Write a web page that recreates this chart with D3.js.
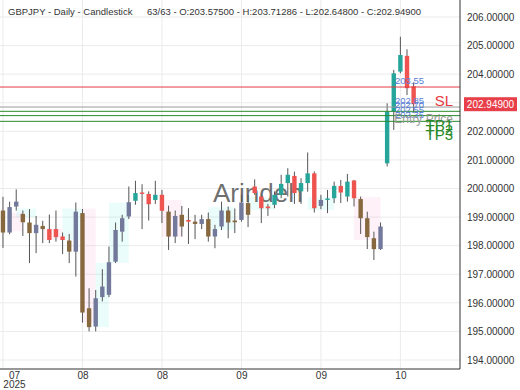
<!DOCTYPE html>
<html>
<head>
<meta charset="utf-8">
<script src="https://cdn.jsdelivr.net/npm/d3@7"></script>
<style>
  html, body { margin: 0; padding: 0; background: #fff; }
  svg { display: block; font-family: "Liberation Sans", Arial, sans-serif; }
</style>
</head>
<body>
<div id="chart"></div>
<script>
// GBPJPY daily, 63 candles
const opens  = [199.23,198.46,199.37,199.11,198.81,198.44,198.69,198.58,198.58,198.32,
                198.18,197.79,199.14,195.81,195.17,196.20,196.28,197.44,198.49,199.02,
                199.57,199.86,199.81,199.60,199.78,199.19,198.32,199.08,198.90,198.84,
                198.76,198.93,198.32,198.67,199.23,198.88,198.90,199.49,200.07,199.72,
                199.37,199.43,199.78,200.19,200.44,199.90,200.19,200.53,199.39,199.60,
                199.66,200.09,199.72,200.28,199.63,198.96,198.26,197.88,200.88,202.69,
                204.09,204.64,203.575];
const highs  = [199.71,199.54,199.97,199.23,199.28,199.04,198.87,199.09,199.23,198.46,
                198.41,199.51,199.28,196.51,196.45,197.18,197.97,198.81,199.08,200.07,
                200.27,200.15,199.90,200.27,199.95,199.40,199.23,199.39,199.31,199.08,
                199.08,199.16,198.73,199.54,199.37,199.30,199.78,199.78,200.32,199.78,
                199.46,199.90,200.48,200.71,200.59,200.36,201.26,200.60,199.78,199.95,
                200.24,200.30,200.51,200.30,199.72,199.19,198.49,198.81,202.98,204.15,
                205.31,204.87,203.71286];
const lows   = [197.92,198.40,199.23,198.34,197.39,197.74,198.09,198.09,198.14,197.71,
                197.39,196.92,195.31,195.00,195.00,196.05,196.20,197.39,198.14,198.93,
                199.43,198.58,198.88,199.46,198.79,197.85,198.09,198.32,198.06,198.23,
                198.58,198.14,197.91,198.55,198.26,198.44,198.84,198.65,199.78,198.79,
                199.04,199.31,199.66,199.72,199.46,199.46,199.89,199.16,199.28,199.14,
                199.49,199.49,199.54,199.37,198.41,197.88,197.50,197.85,200.77,202.05,
                204.03,203.27,202.648];
const closes = [198.46,199.35,199.54,198.82,198.44,198.73,198.58,198.20,198.30,198.20,
                197.79,199.19,195.66,195.15,196.16,196.57,197.42,198.55,198.96,199.52,
                199.84,199.81,199.45,199.78,199.22,198.32,199.04,198.67,198.84,198.76,
                198.93,198.32,198.58,199.23,198.81,198.82,199.51,199.08,199.84,199.31,
                199.31,199.78,200.16,200.48,199.84,200.19,200.53,199.31,199.60,199.65,
                200.09,199.86,200.24,199.66,198.96,198.30,197.88,198.67,202.69,204.03,
                204.67,203.51,202.949];
// 1 = weak-signal bar (drawn in muted tone)
const weak   = [1,1,1,1,1,1,1,0,0,0, 1,1,1,1,1,1,1,1,1,1,
                0,0,0,0,0,1,1,1,0,1, 1,1,1,1,1,1,1,1,0,0,
                0,0,0,0,0,0,0,0,1,0, 0,0,0,0,1,1,1,1,0,0,
                0,0,0];

// zones: from bar, to bar, low, high, kind
const zoneFrom = [1, 2, 6, 9, 12, 14, 16, 24, 31, 37, 46, 53];
const zoneTo   = [3, 5, 9, 12, 14, 16, 19, 27, 35, 41, 50, 57];
const zoneLow  = [198.5, 199.0, 198.2, 198.2, 195.3, 195.15, 197.4, 198.3, 198.55, 199.25, 199.25, 198.2];
const zoneHigh = [199.15, 199.3, 198.6, 199.3, 199.3, 197.4, 199.5, 199.6, 199.35, 199.7, 199.7, 199.7];
const zoneKind = ["sell","buy","sell","buy","sell","buy","buy","sell","buy","buy","buy","sell"];

// trade levels
const levelNames  = ["SL", "Entry Price", "TP1", "TP2", "TP3"];
const levelValues = [203.55, 202.85, 202.70, 202.55, 202.35];

// axes
const tickIndex  = [0, 12, 24, 36, 48, 60];
const tickLabels = ["07", "08", "08", "09", "09", "10"];
const priceTicks = d3.range(194, 207, 1);

class CandleChart {
  constructor(el) {
    this.el = el;
    this.init();
  }

  init() {
    this.setup();
    this.scaffold();
    this.render();
  }

  setup() {
    this.width = 520;
    this.height = 390;
    this.plotRight = 460;
    this.plotBottom = 369;
    this.x = d3.scaleLinear().domain([-0.45, 69]).range([0, this.plotRight]);
    this.y = d3.scaleLinear().domain([194, 206]).range([360, 17]);
    this.bodyW = 4.4;
    this.colors = {
      up: "#26a69a", down: "#ef5350",
      upWeak: "#72799b", downWeak: "#87683f",
      sell: "#ff4fa0", buy: "#00e5d0",
      SL: "#e53a40", Entry: "#9a9a9a", TP: "#2a8a2a",
    };
    this.bars = opens.map((o, i) => ({
      i, o, h: highs[i], l: lows[i], c: closes[i], weak: weak[i],
    }));
    this.zones = zoneFrom.map((f, i) => ({
      f, t: zoneTo[i], lo: zoneLow[i], hi: zoneHigh[i], kind: zoneKind[i],
    }));
  }

  scaffold() {
    this.svg = d3.select(this.el).append("svg")
      .attr("width", this.width).attr("height", this.height);
    this.gGrid = this.svg.append("g");
    this.gZones = this.svg.append("g");
    this.gMark = this.svg.append("g");
    this.gCandles = this.svg.append("g");
    this.gLevels = this.svg.append("g");
    this.gAxes = this.svg.append("g");
    this.gTitle = this.svg.append("g");
  }

  render() {
    const { x, y } = this;

    // grid
    this.gGrid.selectAll(".hg").data(priceTicks).join("line")
      .attr("x1", 0).attr("x2", this.plotRight)
      .attr("y1", (d) => y(d)).attr("y2", (d) => y(d))
      .attr("stroke", "#ebebeb");
    this.gGrid.selectAll(".vg").data(tickIndex).join("line")
      .attr("x1", (d) => x(d)).attr("x2", (d) => x(d))
      .attr("y1", 0).attr("y2", this.plotBottom)
      .attr("stroke", "#ebebeb");

    // zones
    this.gZones.selectAll("rect").data(this.zones).join("rect")
      .attr("x", (d) => x(d.f))
      .attr("width", (d) => x(d.t) - x(d.f))
      .attr("y", (d) => y(d.hi))
      .attr("height", (d) => y(d.lo) - y(d.hi))
      .attr("fill", (d) => this.colors[d.kind])
      .attr("fill-opacity", 0.08);

    // watermark
    this.gMark.append("text")
      .attr("x", 213).attr("y", 202)
      .attr("font-size", 26).attr("fill", "#555").attr("fill-opacity", 0.85)
      .text("Arindeh");

    // candles
    const g = this.gCandles.selectAll("g").data(this.bars).join("g");
    g.append("line")
      .attr("x1", (d) => x(d.i)).attr("x2", (d) => x(d.i))
      .attr("y1", (d) => y(d.h)).attr("y2", (d) => y(d.l))
      .attr("stroke", "#555").attr("stroke-width", 1);
    g.append("rect")
      .attr("x", (d) => x(d.i) - this.bodyW / 2)
      .attr("width", this.bodyW)
      .attr("y", (d) => y(Math.max(d.o, d.c)))
      .attr("height", (d) => Math.max(1.2, Math.abs(y(d.o) - y(d.c))))
      .attr("fill", (d) => {
        const up = d.c >= d.o;
        if (d.weak) return up ? this.colors.upWeak : this.colors.downWeak;
        return up ? this.colors.up : this.colors.down;
      });

    // trade levels
    const lv = levelNames.map((n, i) => ({ name: n, v: levelValues[i] }));
    const col = (d) => d.name === "SL" ? this.colors.SL
      : d.name.startsWith("TP") ? this.colors.TP : this.colors.Entry;
    this.gLevels.selectAll("line").data(lv).join("line")
      .attr("x1", 0).attr("x2", this.plotRight)
      .attr("y1", (d) => y(d.v)).attr("y2", (d) => y(d.v))
      .attr("stroke", col).attr("stroke-width", 1);
    this.gLevels.selectAll(".val").data(lv).join("text")
      .attr("class", "val")
      .attr("x", 395).attr("y", (d) => y(d.v) - 3)
      .attr("font-size", 9.5).attr("fill", "#5b7fd6")
      .text((d) => d.v.toFixed(2));
    this.gLevels.selectAll(".name").data(lv).join("text")
      .attr("class", "name")
      .attr("x", 453).attr("text-anchor", "end")
      .attr("y", (d) => y(d.v) + (d.name === "Entry Price" ? 16 : 19))
      .attr("font-size", (d) => d.name === "Entry Price" ? 12 : 15)
      .attr("fill", col)
      .text((d) => d.name);

    // frame
    this.gAxes.append("line")
      .attr("x1", this.plotRight).attr("x2", this.plotRight)
      .attr("y1", 0).attr("y2", this.plotBottom)
      .attr("stroke", "#333");
    this.gAxes.append("line")
      .attr("x1", 0).attr("x2", this.plotRight)
      .attr("y1", this.plotBottom).attr("y2", this.plotBottom)
      .attr("stroke", "#333");

    // right price axis
    const ya = this.gAxes.append("g")
      .attr("transform", `translate(${this.plotRight},0)`)
      .call(d3.axisRight(y).tickValues(priceTicks).tickSize(0).tickPadding(7)
        .tickFormat((d) => d.toFixed(5)));
    ya.select(".domain").remove();
    ya.selectAll("text").attr("font-size", 10).attr("fill", "#333")
      .attr("font-family", "Liberation Sans, Arial, sans-serif");

    // bottom date axis
    const xa = this.gAxes.append("g")
      .attr("transform", `translate(0,${this.plotBottom})`)
      .call(d3.axisBottom(x).tickValues(tickIndex).tickSize(0).tickPadding(3)
        .tickFormat((d, i) => tickLabels[i]));
    xa.select(".domain").remove();
    xa.selectAll("text").attr("font-size", 10).attr("fill", "#333")
      .attr("font-family", "Liberation Sans, Arial, sans-serif");
    const first = xa.select(".tick text").attr("x", 11);
    first.append("tspan").attr("x", 11).attr("dy", "0.9em").text("2025");

    // last price tag
    const last = this.bars[this.bars.length - 1].c;
    const tag = this.gAxes.append("g").attr("transform", `translate(464,${y(last)})`);
    tag.append("rect").attr("x", 0).attr("y", -7).attr("width", 53).attr("height", 14)
      .attr("fill", "#e8404a");
    tag.append("text").attr("x", 26.5).attr("y", 3.6).attr("text-anchor", "middle")
      .attr("font-size", 10).attr("fill", "#fff").text(last.toFixed(5));

    // title
    const t = this.gTitle.append("text").attr("y", 15)
      .attr("font-size", 9.5).attr("fill", "#333");
    t.append("tspan").attr("x", 8).text("GBPJPY - Daily - Candlestick");
    t.append("tspan").attr("x", 147).text(
      `63/63 - O:${opens[62].toFixed(5)} - H:${highs[62].toFixed(5)} - L:${lows[62].toFixed(5)} - C:${closes[62].toFixed(5)}`
    );
  }
}

new CandleChart(document.getElementById("chart"));
</script>
</body>
</html>
